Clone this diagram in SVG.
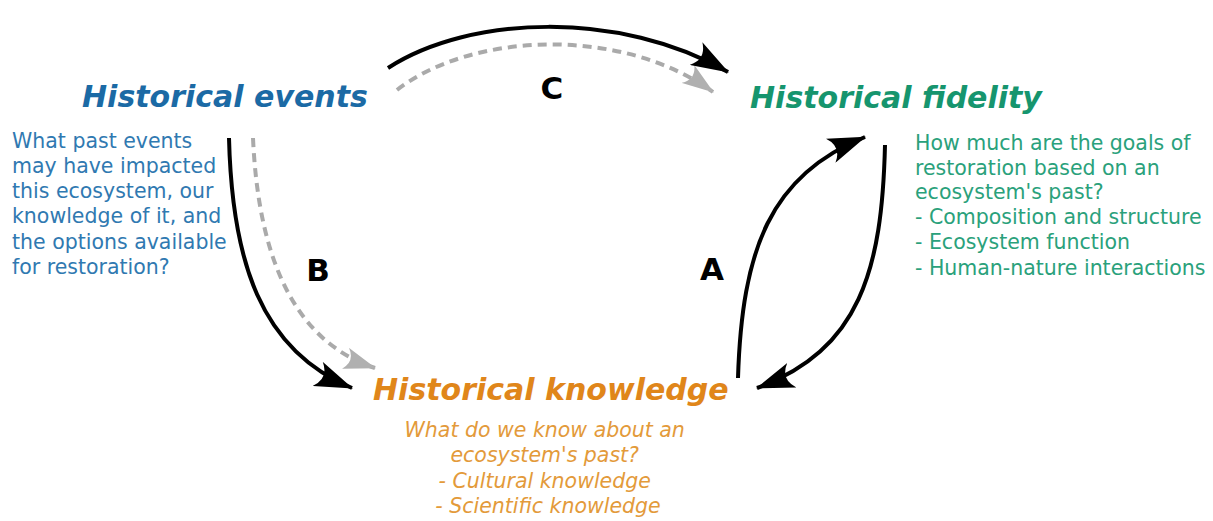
<svg xmlns="http://www.w3.org/2000/svg" width="1213" height="521" viewBox="0 0 1213 521">
<style>
.title{font-family:"DejaVu Sans",sans-serif;font-weight:bold;font-style:oblique;font-size:30px}
.body{font-family:"DejaVu Sans",sans-serif;font-size:20.5px}
.lbl{font-family:"DejaVu Sans",sans-serif;font-weight:bold;font-size:31px;fill:#000;text-anchor:middle}
.blk{fill:none;stroke:#000;stroke-width:4}
.gry{fill:none;stroke:#aaaaaa;stroke-width:4;stroke-dasharray:9 6}
</style>
<defs>
<marker id="ab" viewBox="0 0 38 26" refX="37" refY="13" markerWidth="38" markerHeight="26" markerUnits="userSpaceOnUse" orient="auto">
<path d="M38,13 L0,0 Q12,13 0,26 Z" fill="#000"/>
</marker>
<marker id="ag" viewBox="0 0 32 22" refX="31" refY="11" markerWidth="32" markerHeight="22" markerUnits="userSpaceOnUse" orient="auto">
<path d="M32,11 L0,0 Q10,11 0,22 Z" fill="#b0b0b0"/>
</marker>
</defs>
<rect width="1213" height="521" fill="#fff"/>
<g id="connectors">
<path class="gry" d="M397,90 C470,33 620,25 713,92" marker-end="url(#ag)"/>
<path class="blk" d="M388,68 C470,15 620,10 728,72" marker-end="url(#ab)"/>
<path class="gry" d="M253,138 C258,250 290,340 375,368" marker-end="url(#ag)"/>
<path class="blk" d="M229,138 C232,260 260,350 352,388" marker-end="url(#ab)"/>
<path class="blk" d="M738,378 C742,250 770,175 865,137" marker-end="url(#ab)"/>
<path class="blk" d="M885,145 C882,270 860,350 757,388" marker-end="url(#ab)"/>
<text class="lbl" x="552" y="99">C</text>
<text class="lbl" x="318" y="281">B</text>
<text class="lbl" x="712" y="280">A</text>
</g>
<g id="events">
<text class="title" x="82" y="107" fill="#1b6aa5">Historical events</text>
<text class="body" fill="#3079b1">
<tspan x="12" y="148">What past events</tspan>
<tspan x="12" y="173">may have impacted</tspan>
<tspan x="12" y="198">this ecosystem, our</tspan>
<tspan x="12" y="223">knowledge of it, and</tspan>
<tspan x="12" y="249">the options available</tspan>
<tspan x="12" y="274">for restoration?</tspan>
</text>
</g>
<g id="fidelity">
<text class="title" x="750" y="108" fill="#16956e">Historical fidelity</text>
<text class="body" fill="#2aa17b">
<tspan x="915" y="150">How much are the goals of</tspan>
<tspan x="915" y="175">restoration based on an</tspan>
<tspan x="915" y="199">ecosystem's past?</tspan>
<tspan x="915" y="224">- Composition and structure</tspan>
<tspan x="915" y="249">- Ecosystem function</tspan>
<tspan x="915" y="275">- Human-nature interactions</tspan>
</text>
</g>
<g id="knowledge">
<text class="title" x="373" y="400" fill="#e0861a">Historical knowledge</text>
<text class="body" fill="#e39a3a" font-style="oblique" text-anchor="middle">
<tspan x="548" y="437">What do we know about an</tspan>
<tspan x="548" y="462">ecosystem's past?</tspan>
<tspan x="548" y="488">- Cultural knowledge</tspan>
<tspan x="548" y="513">- Scientific knowledge</tspan>
</text>
</g>
</svg>
